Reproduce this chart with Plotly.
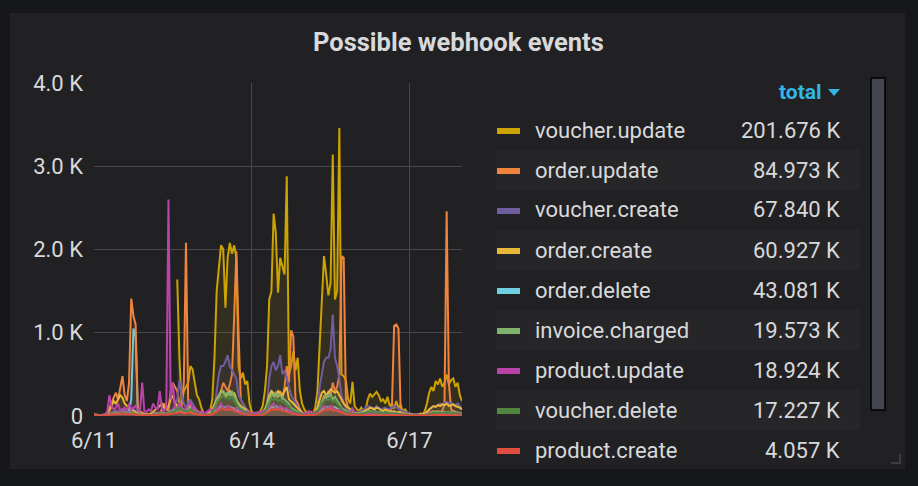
import pandas as pd
import plotly.graph_objects as go

W, H = 918, 486

# ---------------- data ----------------
start_time = "2018-06-11 00:00"
x_range = ["2018-06-11 00:00", "2018-06-18 00:00"]
x_tick_vals = ["2018-06-11", "2018-06-14", "2018-06-17"]
x_tick_text = ["6/11", "6/14", "6/17"]
y_tick_vals = [0, 1000, 2000, 3000, 4000]
y_tick_text = ["0", "1.0 K", "2.0 K", "3.0 K", "4.0 K"]

title_text = "Possible webhook events"
legend_header = "total"

series_names = ["voucher.update", "order.update", "voucher.create", "order.create",
                "order.delete", "invoice.charged", "product.update", "voucher.delete",
                "product.create"]
series_colors = ["#CCA300", "#EF843C", "#705DA0", "#EAB839", "#6ED0E0",
                 "#7EB26D", "#BA43A9", "#508642", "#E24D42"]
series_totals = ["201.676 K", "84.973 K", "67.840 K", "60.927 K", "43.081 K",
                 "19.573 K", "18.924 K", "17.227 K", "4.057 K"]

voucher_update = [
    None, None, None, None, None, None, None, None, None, None, None, None,
    None, None, None, None, None, None, None, None, None, None, None, None,
    None, None, None, None, None, None, None, None, None, None, None, None,
    None, None,
    1640, 700, 150, 300, 350, 400, 600, 560, 400, 250,
    200, 100, 40, 20, 30, 60, 200, 700, 1500, 1760, 2050, 2000, 1300, 1900, 2080, 1950, 2050, 1900, 600, 450, 520, 380, 420, 150,
    50, 30, 40, 30, 60, 120, 300, 600, 1400, 1500, 2430, 2200, 1480, 1900, 1800, 1700, 2880, 500, 600, 780, 550, 700, 300, 150,
    80, 40, 30, 50, 30, 100, 300, 900, 1500, 1920, 1700, 1450, 1600, 3140, 1400, 1500, 3460, 500, 480, 430, 200, 150, 410, 120,
    80, 60, 100, 50, 80, 200, 270, 230, 260, 290, 250, 180, 200, 150, 230, 120, 150, 90, 180, 100, 130, 60, 80, 40,
    30, 20, 10, 20, 10, 30, 20, 60, 150, 280, 350, 300, 420, 380, 450, 350, 400, 500, 380, 430, 450, 350, 400, 250, 180,
]
order_update = [
    10, 10, 10, 10, 15, 20, 40, 100, 150, 220, 280, 200, 350, 480, 250, 180, 400, 1410, 1200, 1100, 100, 60, 40, 30,
    20, 20, 30, 30, 40, 40, 30, 80, 150, 100, 60, 300, 400, 350, 300, 150, 100, 400, 2080, 150, 60, 50, 40, 40,
    30, 30, 30, 30, 30, 40, 50, 100, 150, 200, 300, 400, 350, 300, 380, 500, 1200, 1980, 1000, 200, 150, 100, 60, 40,
    30, 30, 30, 30, 30, 40, 50, 80, 150, 300, 250, 200, 250, 300, 200, 350, 600, 400, 1030, 950, 200, 150, 80, 40,
    30, 30, 30, 30, 30, 40, 60, 80, 150, 250, 200, 300, 250, 400, 300, 350, 500, 1920, 1900, 200, 100, 60, 40, 30,
    30, 30, 30, 30, 30, 30, 30, 30, 30, 40, 40, 30, 30, 30, 30, 30, 100, 1080, 1100, 1050, 60, 30, 30, 30,
    30, 20, 20, 20, 20, 20, 20, 20, 30, 40, 50, 60, 50, 60, 50, 60, 150, 2460, 400, 80, 60, 50, 40, 40, 30,
]
voucher_create = [
    5, 5, 5, 5, 10, 10, 20, 30, 40, 50, 60, 50, 60, 80, 60, 50, 40, 60, 80, 60, 40, 30, 20, 20,
    20, 20, 20, 30, 30, 40, 40, 50, 40, 30, 40, 60, 80, 120, 200, 430, 250, 150, 100, 150, 200, 150, 100, 60,
    40, 30, 30, 30, 30, 40, 60, 100, 300, 500, 600, 600, 650, 730, 600, 550, 500, 450, 250, 200, 150, 100, 80, 40,
    30, 30, 30, 30, 30, 40, 60, 150, 450, 600, 650, 550, 600, 730, 500, 550, 450, 350, 250, 200, 150, 100, 60, 40,
    30, 30, 30, 30, 30, 40, 100, 350, 500, 650, 700, 700, 800, 1220, 700, 600, 450, 250, 150, 100, 80, 60, 40, 40,
    40, 50, 60, 80, 100, 120, 110, 100, 90, 120, 100, 80, 90, 100, 80, 90, 100, 120, 100, 80, 70, 60, 50, 40,
    30, 20, 20, 20, 20, 20, 20, 30, 60, 80, 100, 120, 110, 130, 150, 140, 160, 170, 150, 160, 140, 130, 150, 120, 80,
]
order_create = [
    20, 15, 10, 10, 10, 15, 30, 60, 120, 180, 150, 200, 250, 220, 150, 120, 100, 80, 60, 40, 30, 20, 20, 15,
    15, 20, 30, 50, 80, 100, 120, 150, 100, 80, 120, 200, 250, 150, 120, 100, 80, 60, 80, 100, 120, 100, 80, 60,
    40, 30, 20, 20, 30, 40, 80, 150, 200, 250, 300, 280, 220, 260, 300, 250, 280, 200, 150, 120, 100, 80, 60, 40,
    30, 20, 20, 20, 30, 50, 80, 150, 250, 300, 280, 250, 300, 280, 250, 300, 350, 200, 180, 150, 120, 100, 70, 40,
    30, 20, 20, 20, 30, 50, 100, 200, 280, 300, 250, 280, 320, 300, 280, 300, 250, 200, 150, 120, 100, 80, 60, 40,
    30, 30, 40, 50, 60, 80, 100, 90, 80, 100, 90, 70, 60, 80, 70, 60, 50, 60, 40, 50, 40, 30, 30, 20,
    20, 15, 10, 10, 15, 20, 20, 30, 50, 80, 100, 120, 110, 130, 120, 140, 130, 150, 120, 130, 140, 120, 110, 100, 80,
]
order_delete = [
    5, 5, 5, 5, 5, 10, 10, 20, 30, 40, 60, 40, 60, 80, 60, 40, 60, 200, 1050, 950, 60, 30, 20, 15,
    10, 10, 15, 20, 25, 30, 30, 35, 30, 25, 30, 40, 50, 40, 50, 60, 50, 40, 40, 50, 60, 50, 40, 30,
    20, 15, 15, 15, 15, 20, 30, 50, 80, 100, 120, 110, 100, 120, 110, 100, 90, 80, 60, 50, 40, 30, 25, 20,
    15, 15, 15, 15, 20, 25, 40, 60, 90, 110, 100, 120, 100, 110, 90, 80, 70, 60, 50, 40, 30, 25, 20, 15,
    15, 15, 15, 15, 20, 25, 40, 60, 80, 100, 110, 100, 120, 100, 110, 90, 80, 60, 50, 40, 30, 25, 20, 15,
    15, 15, 20, 20, 25, 30, 30, 25, 30, 25, 20, 25, 20, 20, 25, 20, 20, 15, 20, 15, 15, 10, 10, 10,
    10, 8, 8, 8, 8, 8, 8, 10, 12, 15, 20, 25, 20, 25, 25, 20, 25, 20, 25, 20, 25, 20, 20, 15, 10,
]
invoice_charged = [
    5, 5, 5, 5, 5, 10, 10, 20, 30, 30, 40, 30, 40, 50, 40, 30, 30, 40, 30, 20, 20, 15, 10, 10,
    10, 10, 10, 15, 20, 30, 30, 40, 30, 30, 40, 50, 60, 80, 100, 120, 100, 80, 60, 80, 100, 80, 60, 40,
    30, 20, 20, 20, 20, 30, 50, 100, 180, 250, 280, 300, 260, 280, 250, 300, 230, 200, 120, 100, 80, 60, 40, 30,
    20, 20, 20, 20, 30, 40, 60, 120, 200, 260, 240, 280, 230, 250, 220, 200, 180, 150, 100, 80, 60, 50, 40, 30,
    20, 20, 20, 20, 30, 40, 60, 120, 180, 220, 250, 230, 260, 200, 230, 180, 150, 100, 80, 60, 50, 40, 30, 30,
    30, 30, 40, 40, 50, 60, 60, 50, 60, 50, 40, 50, 40, 40, 50, 40, 40, 30, 40, 30, 30, 20, 20, 20,
    15, 10, 10, 10, 10, 10, 10, 15, 20, 30, 40, 50, 40, 50, 50, 40, 50, 40, 50, 40, 50, 40, 40, 30, 20,
]
product_update = [
    10, 10, 10, 10, 10, 20, 40, 250, 120, 80, 100, 150, 60, 80, 100, 60, 150, 80, 100, 120, 80, 60, 400, 60,
    50, 80, 60, 150, 100, 80, 300, 100, 60, 100, 2600, 200, 400, 100, 80, 150, 100, 60, 80, 120, 170, 80, 100, 60,
    40, 60, 30, 40, 60, 80, 60, 100, 80, 120, 150, 100, 80, 120, 100, 80, 60, 100, 80, 60, 40, 50, 60, 40,
    30, 40, 30, 50, 40, 60, 60, 80, 100, 120, 150, 100, 80, 120, 100, 80, 100, 60, 50, 40, 40, 30, 40, 30,
    30, 30, 60, 30, 40, 50, 60, 80, 100, 120, 100, 80, 120, 100, 80, 60, 80, 60, 40, 40, 30, 30, 100, 30,
    20, 20, 20, 20, 30, 30, 30, 40, 30, 30, 30, 40, 30, 30, 30, 30, 30, 30, 30, 20, 20, 20, 20, 20,
    15, 10, 10, 10, 10, 10, 10, 15, 20, 30, 30, 30, 30, 30, 40, 30, 30, 30, 40, 30, 30, 30, 30, 30, 20,
]
voucher_delete = [
    5, 5, 5, 5, 5, 5, 10, 15, 20, 25, 30, 25, 30, 40, 30, 25, 25, 30, 25, 20, 15, 10, 10, 10,
    10, 10, 10, 10, 15, 20, 25, 30, 25, 25, 30, 40, 50, 60, 80, 100, 80, 60, 50, 60, 80, 60, 50, 30,
    20, 15, 15, 15, 15, 20, 40, 80, 150, 200, 220, 250, 210, 230, 200, 240, 180, 150, 100, 80, 60, 40, 30, 20,
    15, 15, 15, 15, 20, 30, 50, 100, 160, 210, 190, 220, 180, 200, 170, 160, 140, 120, 80, 60, 50, 40, 30, 20,
    15, 15, 15, 15, 20, 30, 50, 100, 150, 180, 200, 190, 210, 170, 190, 150, 120, 80, 60, 50, 40, 30, 25, 20,
    20, 25, 30, 30, 40, 50, 50, 40, 50, 40, 30, 40, 30, 30, 40, 30, 30, 25, 30, 25, 20, 15, 15, 15,
    10, 10, 8, 8, 8, 8, 8, 10, 15, 20, 30, 40, 30, 40, 40, 30, 40, 30, 40, 30, 40, 30, 30, 20, 15,
]
product_create = [
    5, 5, 5, 5, 5, 5, 10, 15, 20, 20, 25, 20, 25, 30, 25, 20, 20, 25, 20, 15, 10, 10, 10, 5,
    5, 5, 10, 10, 10, 15, 15, 20, 20, 15, 20, 25, 30, 30, 40, 50, 40, 30, 30, 40, 40, 30, 25, 20,
    15, 10, 10, 10, 10, 15, 20, 40, 60, 70, 80, 90, 70, 80, 70, 90, 60, 50, 40, 30, 25, 20, 15, 10,
    10, 10, 10, 10, 10, 15, 25, 40, 60, 80, 70, 90, 70, 80, 60, 60, 50, 40, 30, 25, 20, 15, 10, 10,
    10, 10, 10, 10, 10, 15, 25, 40, 60, 70, 80, 70, 90, 60, 70, 60, 50, 40, 30, 25, 20, 15, 10, 10,
    10, 10, 10, 10, 15, 15, 15, 15, 15, 15, 10, 15, 10, 10, 15, 10, 10, 10, 10, 10, 10, 5, 5, 5,
    5, 5, 5, 5, 5, 5, 5, 5, 5, 10, 10, 15, 10, 15, 15, 10, 15, 10, 15, 10, 15, 10, 10, 5, 5,
]

series_values = [voucher_update, order_update, voucher_create, order_create, order_delete,
                 invoice_charged, product_update, voucher_delete, product_create]

# drawing order (back to front), indices into the series lists
draw_order = [4, 0, 1, 2, 3, 5, 6, 7, 8]

# ---------------- styling ----------------
OUTER_BG = "#161719"
PANEL_BG = "#212124"
BAND_BG = "#262629"
GRID = "#48484a"
TEXT = "#d8d9da"
FONT = "Roboto, 'Noto Sans', sans-serif"


def fx(px):
    return px / W


def fy(py):
    return 1 - py / H


def rgba(hex_color, a):
    h = hex_color.lstrip("#")
    return "rgba(%d,%d,%d,%s)" % (int(h[0:2], 16), int(h[2:4], 16), int(h[4:6], 16), a)


fig = go.Figure()
n_max = max(len(v) for v in series_values)
times = pd.date_range(start_time, periods=n_max, freq="h")

for idx in draw_order:
    name, color, vals = series_names[idx], series_colors[idx], series_values[idx]
    fig.add_trace(go.Scatter(
        x=times[:len(vals)], y=vals, name=name, mode="lines",
        line=dict(color=color, width=2),
        fill="tozeroy", fillcolor=rgba(color, 0.1),
        connectgaps=False, showlegend=False, hoverinfo="skip",
    ))

shapes = []
annotations = []

# panel background
shapes.append(dict(type="rect", xref="paper", yref="paper", layer="below",
                   x0=fx(10), x1=fx(905), y0=fy(469), y1=fy(13),
                   fillcolor=PANEL_BG, line=dict(width=0)))

# legend rows
row_y0 = 130
row_step = 40
for i, (name, color, total) in enumerate(zip(series_names, series_colors, series_totals)):
    cy = row_y0 + i * row_step
    if i % 2 == 1:
        shapes.append(dict(type="rect", xref="paper", yref="paper", layer="below",
                           x0=fx(496), x1=fx(860), y0=fy(cy + 20), y1=fy(cy - 20),
                           fillcolor=BAND_BG, line=dict(width=0)))
    shapes.append(dict(type="rect", xref="paper", yref="paper",
                       x0=fx(497), x1=fx(520), y0=fy(cy + 4), y1=fy(cy - 2),
                       fillcolor=color, line=dict(width=0)))
    annotations.append(dict(text=name, xref="paper", yref="paper", x=fx(533), y=fy(cy),
                            xanchor="left", yanchor="middle", showarrow=False,
                            font=dict(family=FONT, size=22, color=TEXT)))
    annotations.append(dict(text=total, xref="paper", yref="paper", x=fx(842), y=fy(cy),
                            xanchor="right", yanchor="middle", showarrow=False,
                            font=dict(family=FONT, size=22, color=TEXT)))

# legend header
annotations.append(dict(text="<b>" + legend_header + "</b>", xref="paper", yref="paper",
                        x=fx(824), y=fy(92), xanchor="right", yanchor="middle",
                        showarrow=False, font=dict(family=FONT, size=21, color="#33b5e5")))
shapes.append(dict(type="path", xref="paper", yref="paper",
                   path="M %f,%f L %f,%f L %f,%f Z" % (fx(828), fy(89), fx(840), fy(89), fx(834), fy(96)),
                   fillcolor="#33b5e5", line=dict(width=0)))

# scrollbar
shapes.append(dict(type="rect", xref="paper", yref="paper",
                   x0=fx(871), x1=fx(885), y0=fy(410), y1=fy(78),
                   fillcolor="#44464f", line=dict(color="#000000", width=1.5)))

# resize handle
shapes.append(dict(type="path", xref="paper", yref="paper",
                   path="M %f,%f L %f,%f L %f,%f" % (fx(900), fy(454), fx(900), fy(463), fx(891), fy(463)),
                   line=dict(color="#3c3d40", width=2)))

# title
annotations.append(dict(text="<b>" + title_text + "</b>", xref="paper", yref="paper", x=fx(458), y=fy(42),
                        xanchor="center", yanchor="middle", showarrow=False,
                        font=dict(family=FONT, size=25.5, color=TEXT)))

fig.update_layout(
    width=W, height=H,
    margin=dict(l=0, r=0, t=0, b=0),
    paper_bgcolor=OUTER_BG, plot_bgcolor=PANEL_BG,
    shapes=shapes, annotations=annotations,
    xaxis=dict(domain=[fx(94), fx(462)], range=x_range, type="date",
               tickvals=x_tick_vals, ticktext=x_tick_text,
               showgrid=True, gridcolor=GRID, gridwidth=1, zeroline=False,
               showline=False, ticks="", automargin=False, ticklabelstandoff=9,
               tickfont=dict(family=FONT, size=22, color=TEXT), fixedrange=True),
    yaxis=dict(domain=[fy(416), fy(83)], range=[0, 4000],
               tickvals=y_tick_vals, ticktext=y_tick_text,
               showgrid=True, gridcolor=GRID, gridwidth=1, zeroline=False,
               showline=False, ticks="", automargin=False, ticklabelstandoff=10,
               tickfont=dict(family=FONT, size=22, color=TEXT), fixedrange=True),
    hovermode=False,
)

fig.write_html("out.html")
